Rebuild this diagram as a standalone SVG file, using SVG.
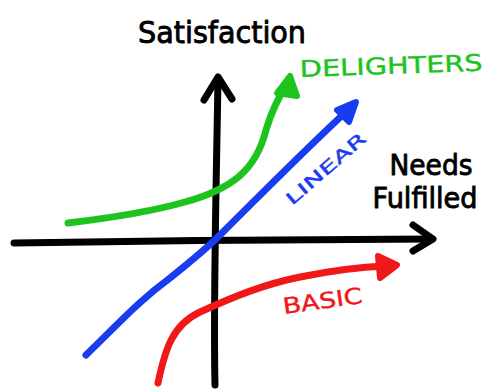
<svg xmlns="http://www.w3.org/2000/svg" width="492" height="389" viewBox="0 0 492 389">
<style>
.ln{fill:none;stroke-width:7;stroke-linecap:round;stroke-linejoin:round}
.hd{stroke-width:6;stroke-linecap:round;stroke-linejoin:round}
.t{font-family:"DejaVu Sans",sans-serif;stroke-width:0.9;stroke-linejoin:round}
.c{stroke-width:0.4}
</style>
<rect width="492" height="389" fill="#fff"/>
<g id="axes">
<path class="ln" stroke="#000" d="M215,385 C213,300 217,150 218,78"/>
<path class="ln" stroke="#000" d="M204,100 L218,77 L232,99"/>
<path class="ln" stroke="#000" d="M14,243 C150,241 300,239 432,239"/>
<path class="ln" stroke="#000" d="M413,225 L433,239 L413,251"/>
</g>
<g id="connectors">
<path class="ln" stroke="#1ec41e" d="M68,223 C110,218 150,212 185,202 C232,189 256,170 266,130 C272,110 278,98 287,84"/>
<path class="hd" stroke="#1ec41e" fill="#1ec41e" d="M277,93 L290,76 L297,96 Z"/>
<path class="ln" stroke="#1a3cf0" d="M86,355 C120,322 140,300 170,278 C195,258 205,250 220,235 C260,195 310,145 348,110"/>
<path class="hd" stroke="#1a3cf0" fill="#1a3cf0" d="M337,110 L356,102 L349,122 Z"/>
<path class="ln" stroke="#f01818" d="M158,383 C165,350 172,325 200,312 C235,296 265,284 300,277 C330,271 360,267 385,266"/>
<path class="hd" stroke="#f01818" fill="#f01818" d="M378,256 L397,265 L380,278 Z"/>
</g>
<g id="labels">
<text class="t" x="222" y="43" font-size="30" text-anchor="middle" textLength="168" lengthAdjust="spacingAndGlyphs" fill="#000" stroke="#000">Satisfaction</text>
<text class="t c" x="300" y="77" font-size="23" textLength="183" lengthAdjust="spacingAndGlyphs" fill="#1ec41e" stroke="#1ec41e" transform="rotate(-2 300 77)">DELIGHTERS</text>
<text class="t c" x="292" y="206" font-size="17" textLength="100" lengthAdjust="spacingAndGlyphs" fill="#1a3cf0" stroke="#1a3cf0" transform="rotate(-41 292 206)">LINEAR</text>
<text class="t" x="431" y="175" font-size="29" text-anchor="middle" textLength="83" lengthAdjust="spacingAndGlyphs" fill="#000" stroke="#000">Needs</text>
<text class="t" x="425" y="208" font-size="28" text-anchor="middle" textLength="105" lengthAdjust="spacingAndGlyphs" fill="#000" stroke="#000">Fulfilled</text>
<text class="t c" x="284" y="314" font-size="22" textLength="80" lengthAdjust="spacingAndGlyphs" fill="#f01818" stroke="#f01818" transform="rotate(-8 284 314)">BASIC</text>
</g>
</svg>
